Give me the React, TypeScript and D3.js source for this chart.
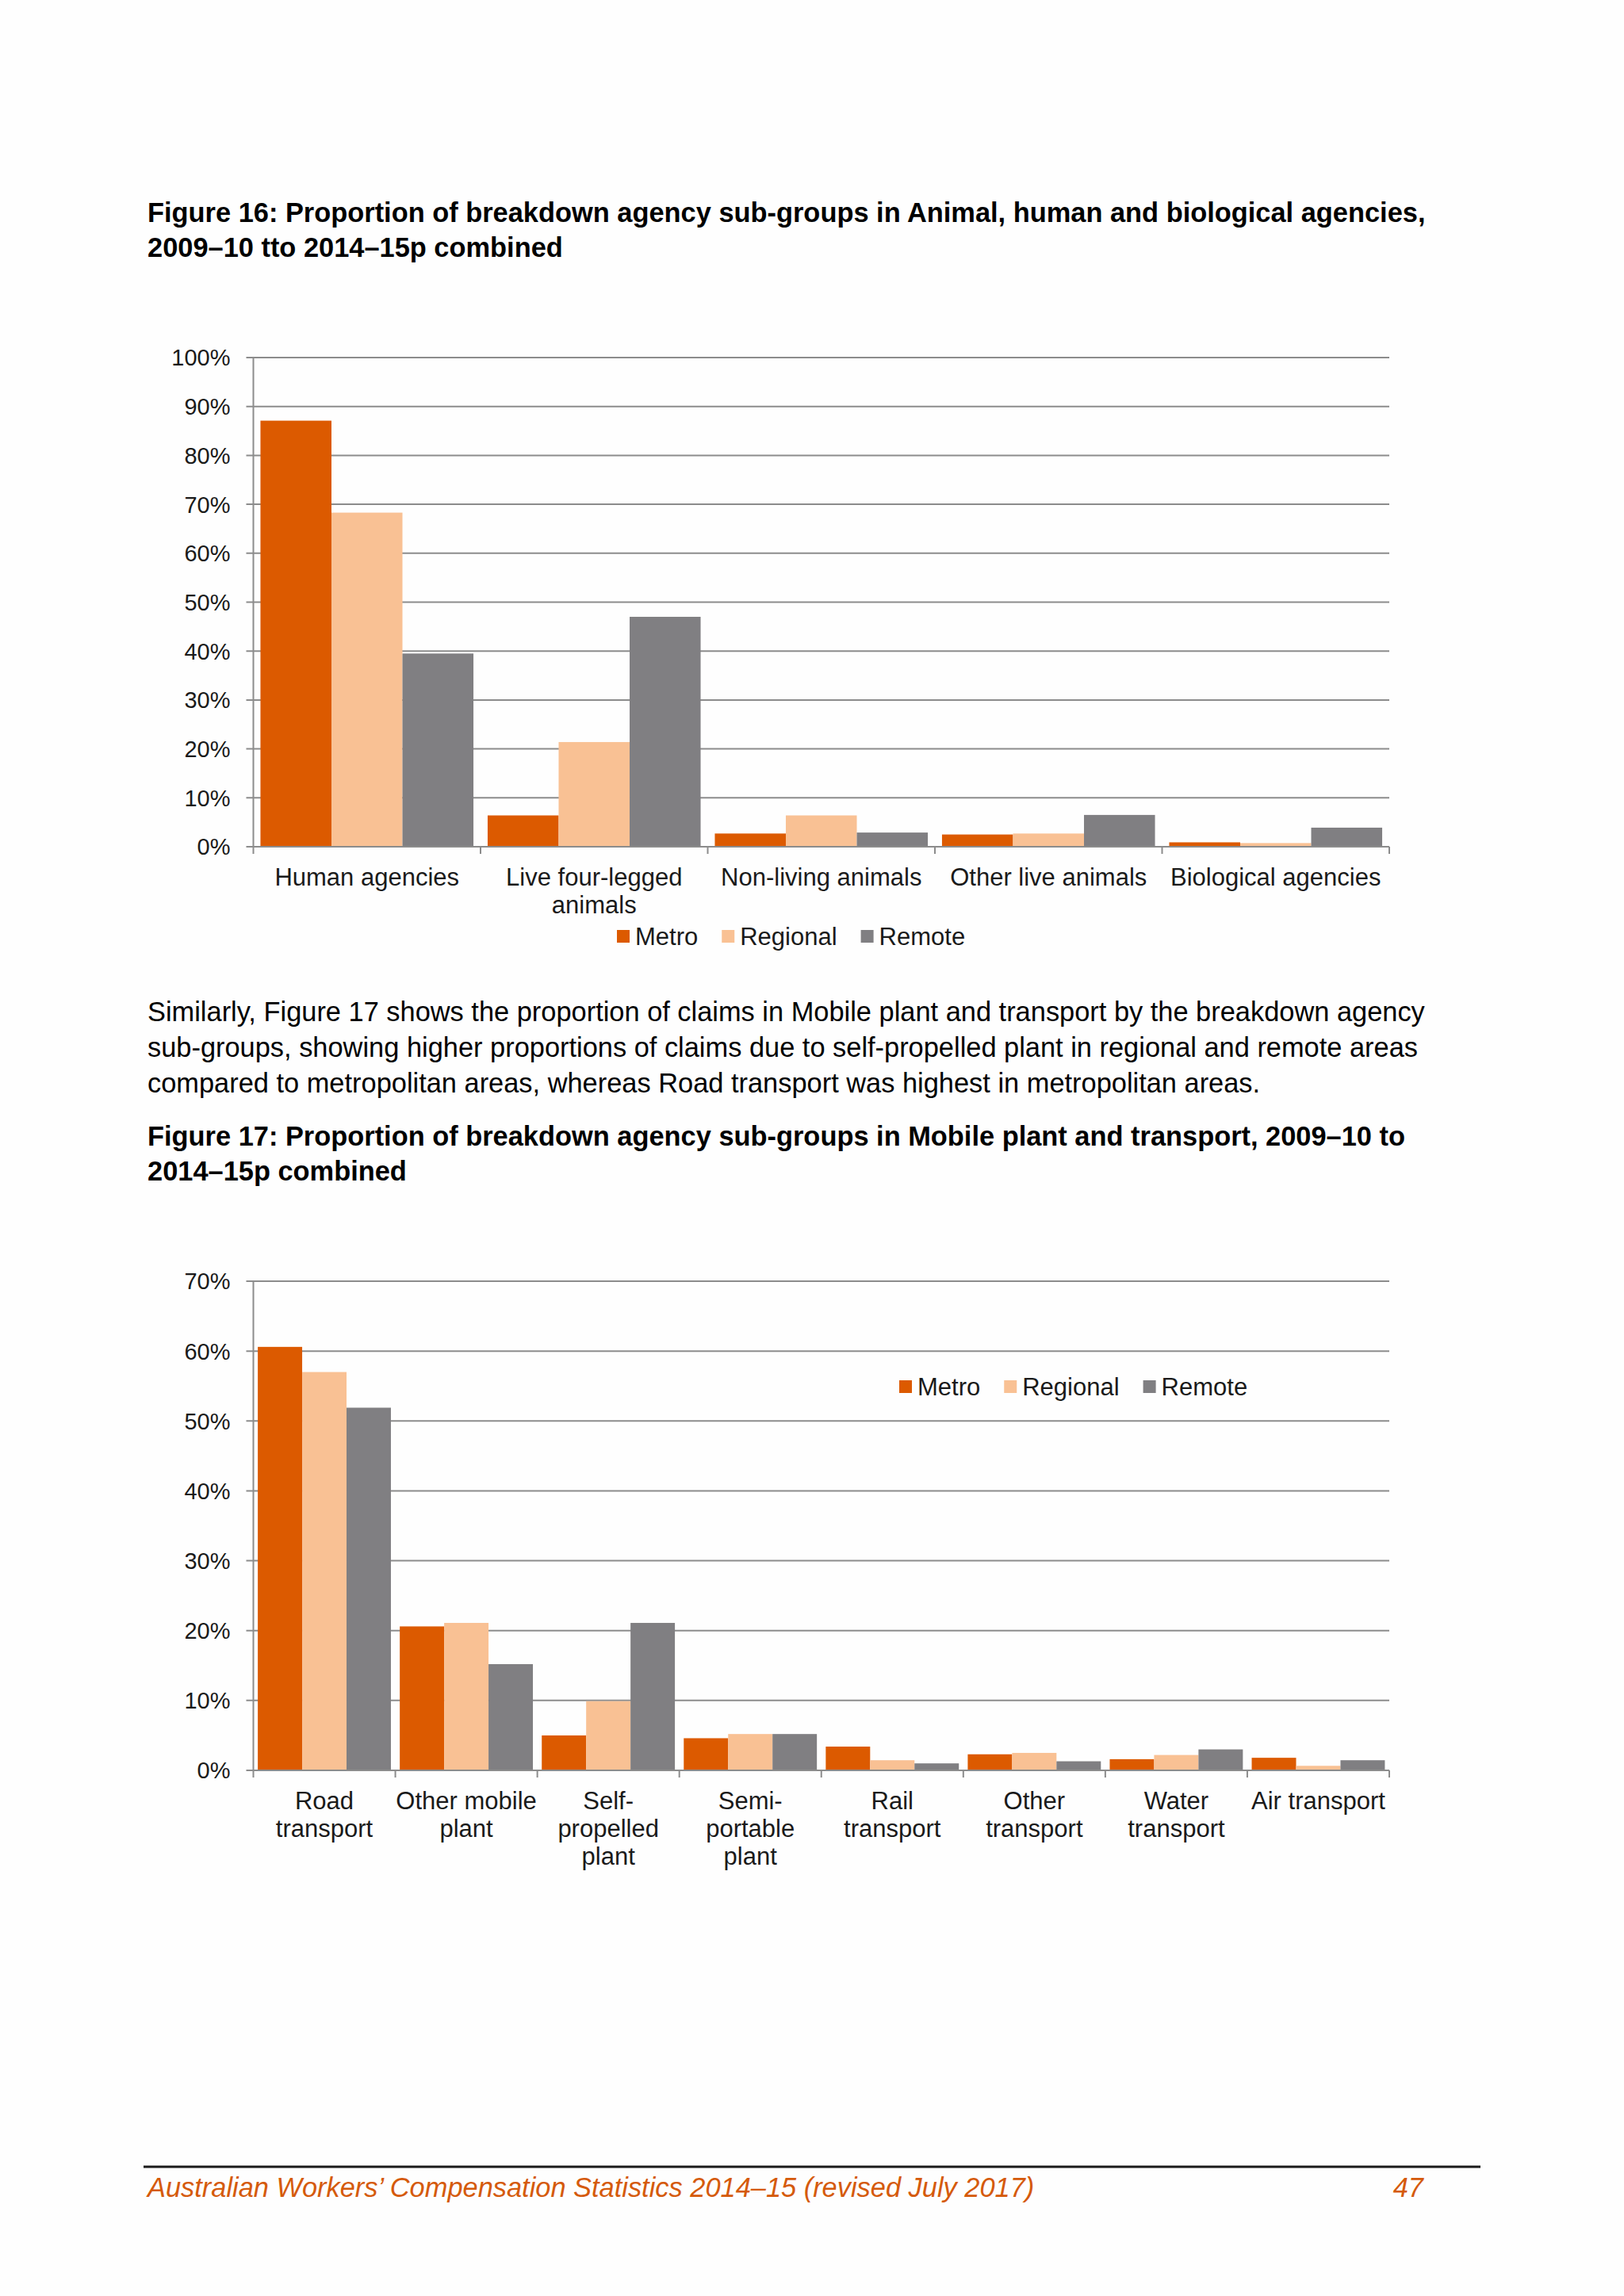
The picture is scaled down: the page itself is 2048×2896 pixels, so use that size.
import React from "react";
import * as d3 from "d3";

// Figure 16 data (percent of claims)
const fig16Categories = [
  "Human agencies",
  "Live four-legged\nanimals",
  "Non-living animals",
  "Other live animals",
  "Biological agencies",
];
const fig16Metro = [87.1, 6.4, 2.7, 2.5, 0.9];
const fig16Regional = [68.3, 21.4, 6.4, 2.7, 0.75];
const fig16Remote = [39.5, 47.0, 2.9, 6.5, 3.9];
const fig16Ticks = [0, 10, 20, 30, 40, 50, 60, 70, 80, 90, 100];

// Figure 17 data (percent of claims)
const fig17Categories = [
  "Road\ntransport",
  "Other mobile\nplant",
  "Self-\npropelled\nplant",
  "Semi-\nportable\nplant",
  "Rail\ntransport",
  "Other\ntransport",
  "Water\ntransport",
  "Air transport",
];
const fig17Metro = [60.6, 20.6, 5.0, 4.6, 3.4, 2.3, 1.6, 1.8];
const fig17Regional = [57.0, 21.1, 9.9, 5.2, 1.45, 2.5, 2.2, 0.65];
const fig17Remote = [51.9, 15.2, 21.1, 5.2, 1.0, 1.3, 3.0, 1.45];
const fig17Ticks = [0, 10, 20, 30, 40, 50, 60, 70];

const seriesNames = ["Metro", "Regional", "Remote"];
const seriesColors = ["#DC5A00", "#F9C194", "#807F82"];

const FONT = "'Liberation Sans', Arial, Helvetica, sans-serif";
const GRID = "#8C8C8C";

type ChartProps = {
  categories: string[];
  series: number[][];
  ticks: number[];
  left: number;
  right: number;
  top: number;
  bottom: number;
  legendX: number;
  legendY: number;
};

const measure = (() => {
  let ctx: CanvasRenderingContext2D | null = null;
  return (text: string, font: string) => {
    if (!ctx) ctx = document.createElement("canvas").getContext("2d");
    if (!ctx) return text.length * 15;
    ctx.font = font;
    return ctx.measureText(text).width;
  };
})();

const BarChart = ({ categories, series, ticks, left, right, top, bottom, legendX, legendY }: ChartProps) => {
  const x0 = d3.scaleBand().domain(categories).range([left, right]).padding(0);
  const x1 = d3
    .scaleBand()
    .domain(seriesNames)
    .range([0, x0.bandwidth()])
    .paddingInner(0)
    .paddingOuter(0.1);
  const y = d3
    .scaleLinear()
    .domain([0, d3.max(ticks) as number])
    .range([bottom, top]);

  // legend layout
  const legendFont = `31px ${FONT}`;
  let cursor = legendX;
  const legendItems = seriesNames.map((name, i) => {
    const item = { name, color: seriesColors[i], x: cursor };
    cursor += 16 + 7 + measure(name, legendFont) + 30;
    return item;
  });

  return (
    <g fontFamily={FONT}>
      {ticks.map((t) => (
        <g key={t}>
          <line
            x1={left - 9}
            x2={right}
            y1={y(t)}
            y2={y(t)}
            stroke={GRID}
            strokeWidth={2}
          />
          <text
            x={left - 29}
            y={y(t)}
            dy="0.36em"
            textAnchor="end"
            fontSize={29}
            fill="#1a1a1a"
          >
            {t}%
          </text>
        </g>
      ))}
      {categories.map((c, ci) => (
        <g key={c}>
          {series.map((vals, si) => (
            <rect
              key={si}
              x={(x0(c) as number) + (x1(seriesNames[si]) as number)}
              y={y(vals[ci])}
              width={x1.bandwidth()}
              height={y(0) - y(vals[ci])}
              fill={seriesColors[si]}
            />
          ))}
          <text
            x={(x0(c) as number) + x0.bandwidth() / 2}
            y={bottom + 38}
            textAnchor="middle"
            fontSize={31}
            fill="#1a1a1a"
          >
            {c.split("\n").map((line, li) => (
              <tspan key={li} x={(x0(c) as number) + x0.bandwidth() / 2} dy={li === 0 ? "0.36em" : 35}>
                {line}
              </tspan>
            ))}
          </text>
        </g>
      ))}
      {/* axes */}
      <line x1={left} x2={left} y1={top} y2={bottom + 9} stroke={GRID} strokeWidth={2} />
      <line x1={left} x2={right} y1={bottom} y2={bottom} stroke={GRID} strokeWidth={2} />
      {categories.map((c) => (
        <line
          key={"t" + c}
          x1={(x0(c) as number) + x0.bandwidth()}
          x2={(x0(c) as number) + x0.bandwidth()}
          y1={bottom}
          y2={bottom + 9}
          stroke={GRID}
          strokeWidth={2}
        />
      ))}
      {legendItems.map((it) => (
        <g key={it.name}>
          <rect x={it.x} y={legendY - 8} width={16} height={16} fill={it.color} />
          <text x={it.x + 23} y={legendY} dy="0.36em" fontSize={31} fill="#1a1a1a">
            {it.name}
          </text>
        </g>
      ))}
    </g>
  );
};

const App = () => {
  const W = 2048;
  const H = 2896;
  const textColor = "#000000";
  return (
    <svg
      width={W}
      height={H}
      style={{ position: "absolute", left: 0, top: 0, background: "#fefefe" }}
      fontFamily={FONT}
    >
      <rect width={W} height={H} fill="#fefefe" />
      <g fontSize={34.4} fontWeight="bold" fill={textColor}>
        <text x={186} y={280}>
          Figure 16: Proportion of breakdown agency sub-groups in Animal, human and biological agencies,
        </text>
        <text x={186} y={324}>
          2009–10 tto 2014–15p combined
        </text>
      </g>
      <BarChart
        categories={fig16Categories}
        series={[fig16Metro, fig16Regional, fig16Remote]}
        ticks={fig16Ticks}
        left={319.5}
        right={1752}
        top={451}
        bottom={1068}
        legendX={778}
        legendY={1181}
      />
      <g fontSize={34.4} fill={textColor}>
        <text x={186} y={1288}>
          Similarly, Figure 17 shows the proportion of claims in Mobile plant and transport by the breakdown agency
        </text>
        <text x={186} y={1333}>
          sub-groups, showing higher proportions of claims due to self-propelled plant in regional and remote areas
        </text>
        <text x={186} y={1378}>
          compared to metropolitan areas, whereas Road transport was highest in metropolitan areas.
        </text>
      </g>
      <g fontSize={34.4} fontWeight="bold" fill={textColor}>
        <text x={186} y={1445}>
          Figure 17: Proportion of breakdown agency sub-groups in Mobile plant and transport, 2009–10 to
        </text>
        <text x={186} y={1489}>
          2014–15p combined
        </text>
      </g>
      <BarChart
        categories={fig17Categories}
        series={[fig17Metro, fig17Regional, fig17Remote]}
        ticks={fig17Ticks}
        left={319.5}
        right={1752}
        top={1616}
        bottom={2233}
        legendX={1134}
        legendY={1749}
      />
      <line x1={181} x2={1867} y1={2733} y2={2733} stroke="#1a1a1a" strokeWidth={3} />
      <g fontSize={34.4} fontStyle="italic" fill="#D55A0B">
        <text x={186} y={2771}>
          Australian Workers’ Compensation Statistics 2014–15 (revised July 2017)
        </text>
        <text x={1795} y={2771} textAnchor="end">
          47
        </text>
      </g>
    </svg>
  );
};

export default App;
